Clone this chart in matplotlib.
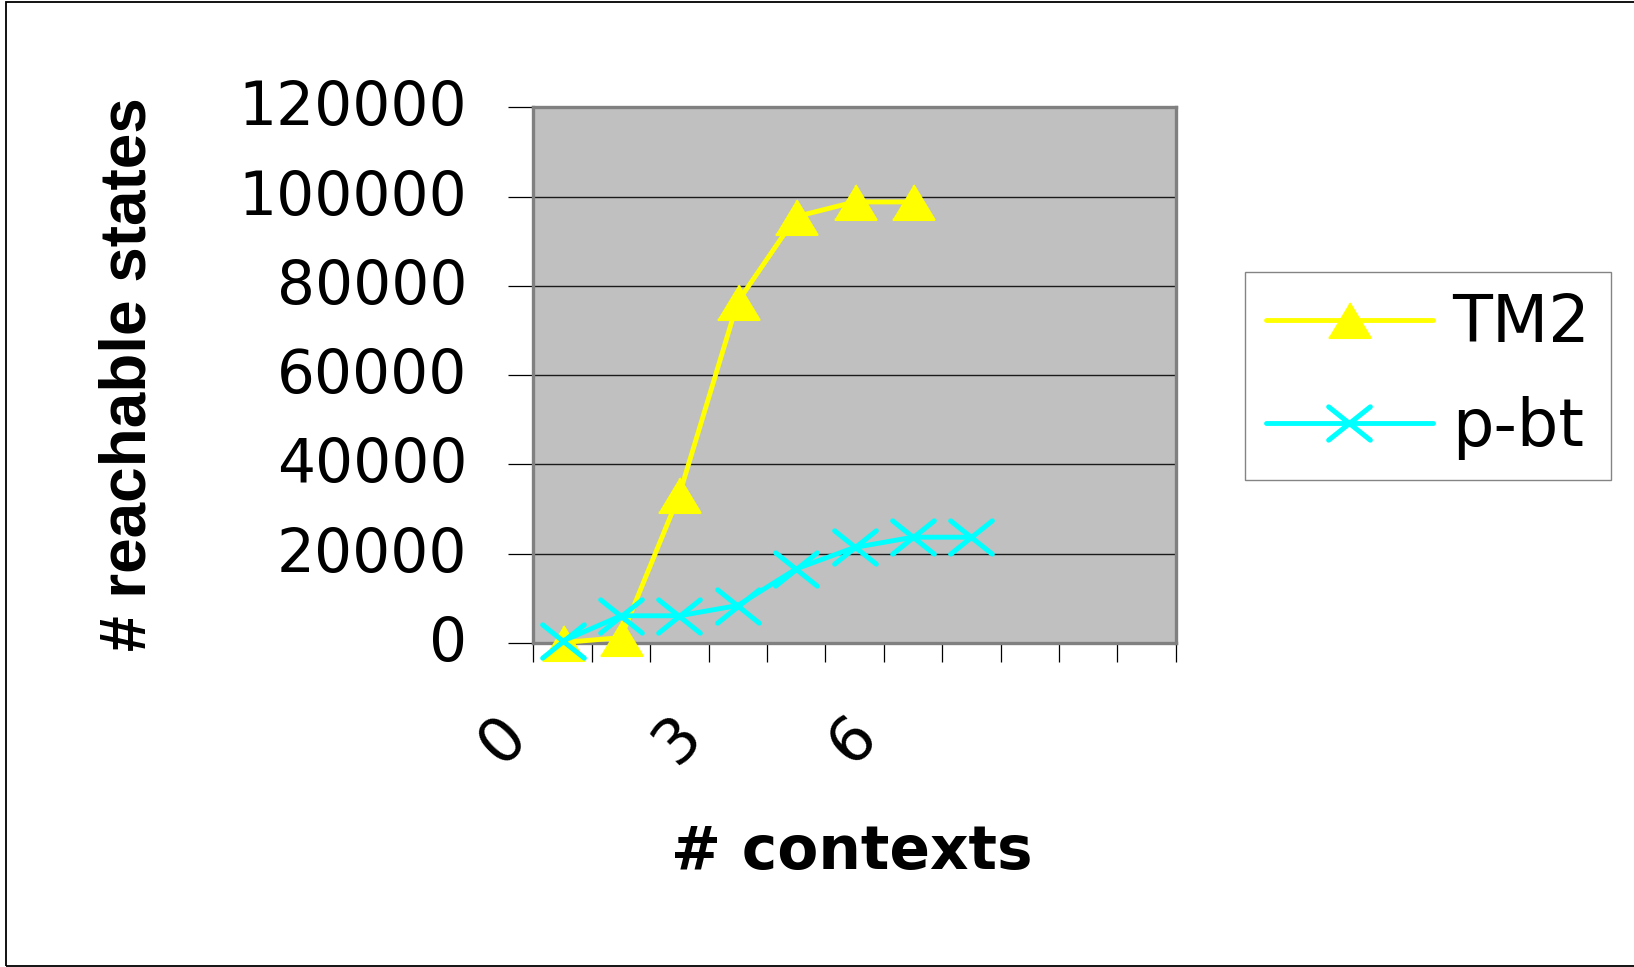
import matplotlib
matplotlib.use("Agg")
import matplotlib.pyplot as plt
from matplotlib.path import Path
from matplotlib.markers import MarkerStyle
from matplotlib.patches import Rectangle
from matplotlib.transforms import offset_copy, ScaledTranslation

# number of contexts (category axis) and reachable-state counts
contexts = list(range(11))
shown_context_labels = ["0", "3", "6"]
shown_context_positions = [0, 3, 6]
tm2_states = [100, 1200, 33200, 76400, 95500, 98800, 98800]
pbt_states = [400, 6100, 6100, 8400, 16600, 21400, 23700, 23700]
y_ticks = [0, 20000, 40000, 60000, 80000, 100000, 120000]

W, H = 1634, 967
fig = plt.figure(figsize=(W / 100, H / 100), dpi=100)
fig.patch.set_facecolor("white")

ax = fig.add_axes([533.3 / W, 1 - 643 / H, (1175.7 - 533.3) / W, (643 - 107.3) / H])
ax.set_facecolor("#C0C0C0")

tri = MarkerStyle([(-1, -0.83), (1, -0.83), (0, 0.83)], joinstyle="round")
cross_path = Path([(-1, -0.8), (1, 0.8), (-1, 0.8), (1, -0.8)],
                  [Path.MOVETO, Path.LINETO, Path.MOVETO, Path.LINETO])
cross = MarkerStyle(cross_path, fillstyle="none", capstyle="round")

l1, = ax.plot(contexts[:len(tm2_states)], tm2_states, color="#FFFF00", lw=3.5,
              marker=tri, markersize=30, markerfacecolor="#FFFF00",
              markeredgecolor="#FFFF00", markeredgewidth=1.8,
              solid_joinstyle="round", solid_capstyle="round",
              clip_on=False, zorder=3, label="TM2")
l2, = ax.plot(contexts[:len(pbt_states)], pbt_states, color="#00FFFF", lw=3.5,
              marker=cross, markersize=30, markeredgecolor="#00FFFF",
              markeredgewidth=3.6, solid_joinstyle="round",
              solid_capstyle="round", clip_on=False, zorder=4, label="p-bt")

ax.set_xlim(-0.5, len(contexts) - 0.5)
ax.set_ylim(0, 120000)

# horizontal gridlines
ax.set_yticks(y_ticks)
ax.set_yticklabels([str(v) for v in y_ticks], fontsize=43, family="DejaVu Sans")
ax.yaxis.grid(True, color="#1a1a1a", lw=1.0)
ax.set_axisbelow(True)
ax.tick_params(axis="y", direction="out", length=18, width=0.9, color="black", pad=29.5)
lift = ScaledTranslation(0, 5 / 100, fig.dpi_scale_trans)
for t in ax.get_yticklabels():
    t.set_transform(t.get_transform() + lift)

# category boundaries carry the x ticks; labels are placed separately
ax.set_xticks([c - 0.5 for c in contexts] + [len(contexts) - 0.5])
ax.set_xticklabels([])
ax.tick_params(axis="x", direction="out", length=13.5, width=0.9, color="black")

for s in ax.spines.values():
    s.set_color("#808080")
    s.set_linewidth(2.4)

lbl_tr = offset_copy(ax.get_xaxis_transform(), fig=fig, x=-43, y=-70, units="points")
for pos, txt in zip(shown_context_positions, shown_context_labels):
    ax.text(pos, 0, txt, transform=lbl_tr, rotation=45, ha="center", va="center",
            fontsize=45, family="DejaVu Sans", clip_on=False)

fig.text(852 / W, 1 - 853 / H, "# contexts", ha="center", va="center",
         fontsize=43, fontweight="bold", family="DejaVu Sans")
fig.text(129 / W, 1 - 374 / H, "# reachable states", ha="center", va="center",
         rotation=90, fontsize=46, fontweight="bold", family="Liberation Sans")

leg = fig.legend(handles=[l1, l2], loc="center",
                 bbox_to_anchor=(1428 / W, 1 - 376 / H),
                 prop={"family": "DejaVu Sans", "size": 47},
                 handlelength=2.56, handletextpad=0.3, labelspacing=0.6,
                 borderpad=0.32, borderaxespad=0, fancybox=False,
                 frameon=True, edgecolor="#666666", facecolor="white")
leg.get_frame().set_linewidth(1.0)

fig.patches.append(Rectangle((6 / W, 1 / H), 1.2, (965 - 1) / H,
                             transform=fig.transFigure, fill=False,
                             edgecolor="black", lw=1.3))

fig.savefig("out.png", dpi=100)
